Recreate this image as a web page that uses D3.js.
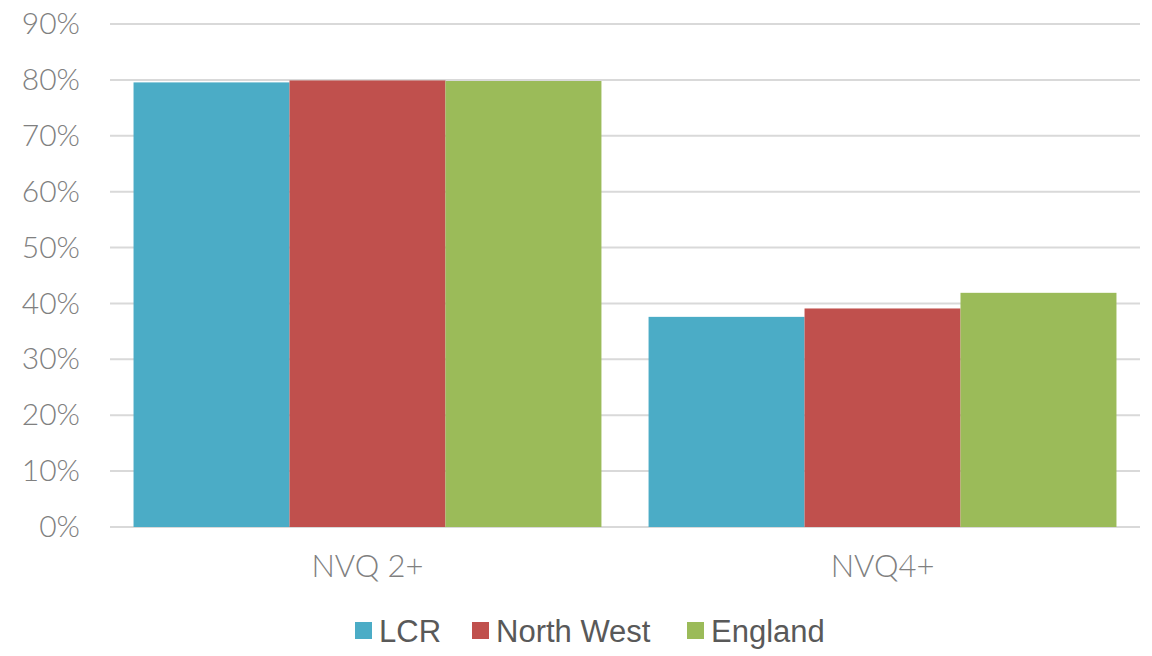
<!DOCTYPE html>
<html>
<head>
<meta charset="utf-8">
<script src="https://cdn.jsdelivr.net/npm/d3@7"></script>
<style>
  body { margin: 0; background: #fff; }
</style>
</head>
<body>
<div class="center"></div>
<script>
// chart data
const categories = ["NVQ 2+", "NVQ4+"];
const seriesNames = ["LCR", "North West", "England"];
const seriesColors = ["#4BACC6", "#C0504D", "#9BBB59"];
const lcrValues = [0.7955, 0.376];
const northWestValues = [0.799, 0.391];
const englandValues = [0.798, 0.419];
const yTicks = [0, 0.1, 0.2, 0.3, 0.4, 0.5, 0.6, 0.7, 0.8, 0.9];

const seriesValues = [lcrValues, northWestValues, englandValues];

const W = 1152, H = 656;
const margin = {top: 24, right: 12, bottom: 129, left: 110};
const width = W - margin.left - margin.right;
const height = H - margin.top - margin.bottom;

const svg = d3.select(".center").append("svg")
    .attr("width", W)
    .attr("height", H)
  .append("g")
    .attr("transform", `translate(${margin.left},${margin.top})`);

// scales
const x0 = d3.scaleBand().domain(categories).range([0, width]).paddingInner(0.0915).paddingOuter(0.0457);
const x1 = d3.scaleBand().domain(seriesNames).range([0, x0.bandwidth()]);
const y = d3.scaleLinear().domain([0, 0.9]).range([height, 0]);

// gridlines
svg.selectAll(".grid")
    .data(yTicks)
    .enter().append("line")
    .attr("x1", 0)
    .attr("x2", width)
    .attr("y1", d => y(d))
    .attr("y2", d => y(d))
    .attr("stroke", "#d9d9d9")
    .attr("stroke-width", 2);

// bars
const groups = svg.selectAll(".cat")
    .data(categories)
    .enter().append("g")
    .attr("transform", d => `translate(${x0(d)},0)`);

groups.selectAll("rect")
    .data((c, i) => seriesNames.map((s, j) => ({s: s, v: seriesValues[j][i], c: seriesColors[j]})))
    .enter().append("rect")
    .attr("x", d => x1(d.s))
    .attr("width", x1.bandwidth())
    .attr("y", d => y(d.v))
    .attr("height", d => y(0) - y(d.v))
    .attr("fill", d => d.c);

// y axis
const yAxis = d3.axisLeft(y).tickValues(yTicks).tickFormat(d3.format(".0%")).tickSize(0).tickPadding(30);
svg.append("g")
    .call(yAxis)
    .call(g => g.select(".domain").remove())
    .selectAll("text")
    .style("font-family", "Lato, sans-serif")
    .style("font-weight", "300")
    .style("font-size", "30px")
    .attr("fill", "#808080");

// x axis
const xAxis = d3.axisBottom(x0).tickSize(0).tickPadding(28);
svg.append("g")
    .attr("transform", `translate(0,${height})`)
    .call(xAxis)
    .call(g => g.select(".domain").remove())
    .selectAll("text")
    .style("font-family", "Lato, sans-serif")
    .style("font-weight", "300")
    .style("font-size", "31px")
    .attr("fill", "#808080");

// legend
const legendX = [355 - margin.left, 472 - margin.left, 687 - margin.left];
const legend = svg.append("g").attr("transform", `translate(0,${630 - margin.top})`);
seriesNames.forEach((s, i) => {
  legend.append("rect")
      .attr("x", legendX[i])
      .attr("y", -8)
      .attr("width", 17)
      .attr("height", 17)
      .attr("fill", seriesColors[i]);
  legend.append("text")
      .attr("x", legendX[i] + 24)
      .attr("y", 12)
      .text(s)
      .style("font-family", "Liberation Sans, Arial, sans-serif")
      .style("font-size", "31px")
      .attr("fill", "#595959");
});
</script>
</body>
</html>
